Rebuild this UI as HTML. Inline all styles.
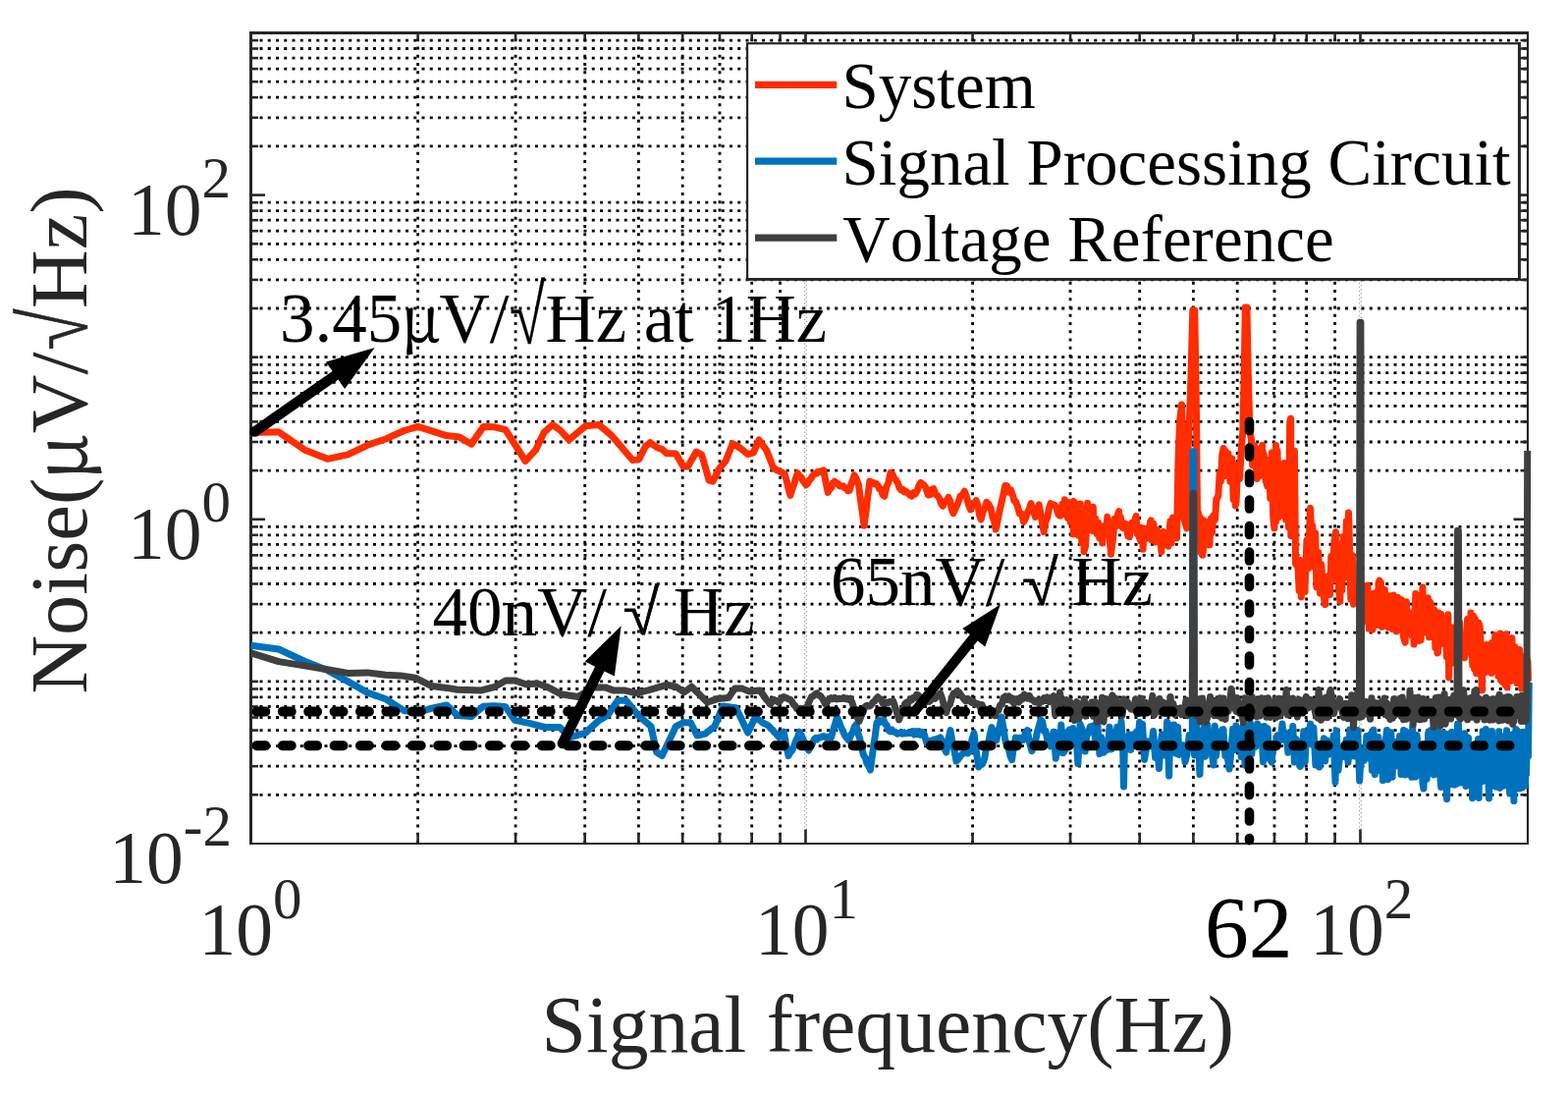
<!DOCTYPE html>
<html lang="en"><head><meta charset="utf-8"><title>Noise spectrum</title>
<style>html,body{margin:0;padding:0;background:#fff}body{width:1597px;height:1117px;overflow:hidden}svg{display:block}</style>
</head><body>
<svg width="1597" height="1117" viewBox="0 0 1597 1117" font-family="'Liberation Serif', serif" style="font-kerning:none">
<rect width="1597" height="1117" fill="#fff"/>
<g stroke="#000" stroke-width="2.8" stroke-dasharray="3 5.25" fill="none">
<path d="M425.6,859.0 V33.5"/>
<path d="M525.1,859.0 V33.5"/>
<path d="M595.7,859.0 V33.5"/>
<path d="M650.4,859.0 V33.5"/>
<path d="M695.2,859.0 V33.5"/>
<path d="M733.0,859.0 V33.5"/>
<path d="M765.7,859.0 V33.5"/>
<path d="M794.6,859.0 V33.5"/>
<path d="M990.6,859.0 V33.5"/>
<path d="M1090.1,859.0 V33.5"/>
<path d="M1160.7,859.0 V33.5"/>
<path d="M1215.4,859.0 V33.5"/>
<path d="M1260.2,859.0 V33.5"/>
<path d="M1298.0,859.0 V33.5"/>
<path d="M1330.7,859.0 V33.5"/>
<path d="M1359.6,859.0 V33.5"/>
<path d="M264.5,809.3 H1556.0"/>
<path d="M264.5,780.2 H1556.0"/>
<path d="M264.5,759.6 H1556.0"/>
<path d="M264.5,743.6 H1556.0"/>
<path d="M264.5,730.5 H1556.0"/>
<path d="M264.5,719.5 H1556.0"/>
<path d="M264.5,709.9 H1556.0"/>
<path d="M264.5,701.5 H1556.0"/>
<path d="M264.5,644.2 H1556.0"/>
<path d="M264.5,615.1 H1556.0"/>
<path d="M264.5,594.5 H1556.0"/>
<path d="M264.5,578.5 H1556.0"/>
<path d="M264.5,565.4 H1556.0"/>
<path d="M264.5,554.4 H1556.0"/>
<path d="M264.5,544.8 H1556.0"/>
<path d="M264.5,536.4 H1556.0"/>
<path d="M264.5,479.1 H1556.0"/>
<path d="M264.5,450.0 H1556.0"/>
<path d="M264.5,429.4 H1556.0"/>
<path d="M264.5,413.4 H1556.0"/>
<path d="M264.5,400.3 H1556.0"/>
<path d="M264.5,389.3 H1556.0"/>
<path d="M264.5,379.7 H1556.0"/>
<path d="M264.5,371.3 H1556.0"/>
<path d="M264.5,314.0 H1556.0"/>
<path d="M264.5,284.9 H1556.0"/>
<path d="M264.5,264.3 H1556.0"/>
<path d="M264.5,248.3 H1556.0"/>
<path d="M264.5,235.2 H1556.0"/>
<path d="M264.5,224.2 H1556.0"/>
<path d="M264.5,214.6 H1556.0"/>
<path d="M264.5,206.2 H1556.0"/>
<path d="M264.5,148.9 H1556.0"/>
<path d="M264.5,119.8 H1556.0"/>
<path d="M264.5,99.2 H1556.0"/>
<path d="M264.5,83.2 H1556.0"/>
<path d="M264.5,70.1 H1556.0"/>
<path d="M264.5,59.1 H1556.0"/>
<path d="M264.5,49.5 H1556.0"/>
<path d="M264.5,41.1 H1556.0"/>
<path d="M264.5,693.9 H1556.0"/>
<path d="M264.5,363.7 H1556.0"/>
</g>
<g stroke="#000" stroke-opacity="0.45" stroke-width="1" stroke-dasharray="1.3 2.8" fill="none">
<path d="M819.7,859.0 V33.5"/><path d="M821.3,857.0 V33.5"/>
<path d="M1384.7,859.0 V33.5"/><path d="M1386.3,857.0 V33.5"/>
</g>
<g stroke="#262626" fill="none" stroke-width="2.6">
<path d="M255.5,860.0 V32.0" stroke-width="3"/>
<path d="M254.0,33.5 H1557.0" stroke-width="3"/>
<path d="M1556.0,32.0 V860.0" stroke-width="2.2"/>
<path d="M254.0,859.0 H1557.0" stroke-width="2.2"/>
<path d="M425.6,859.0 v-10.5"/><path d="M425.6,33.5 v6.8"/>
<path d="M525.1,859.0 v-10.5"/><path d="M525.1,33.5 v6.8"/>
<path d="M595.7,859.0 v-10.5"/><path d="M595.7,33.5 v6.8"/>
<path d="M650.4,859.0 v-10.5"/><path d="M650.4,33.5 v6.8"/>
<path d="M695.2,859.0 v-10.5"/><path d="M695.2,33.5 v6.8"/>
<path d="M733.0,859.0 v-10.5"/><path d="M733.0,33.5 v6.8"/>
<path d="M765.7,859.0 v-10.5"/><path d="M765.7,33.5 v6.8"/>
<path d="M794.6,859.0 v-10.5"/><path d="M794.6,33.5 v6.8"/>
<path d="M820.5,859.0 v-14.5"/><path d="M820.5,33.5 v13.5"/>
<path d="M990.6,859.0 v-10.5"/><path d="M990.6,33.5 v6.8"/>
<path d="M1090.1,859.0 v-10.5"/><path d="M1090.1,33.5 v6.8"/>
<path d="M1160.7,859.0 v-10.5"/><path d="M1160.7,33.5 v6.8"/>
<path d="M1215.4,859.0 v-10.5"/><path d="M1215.4,33.5 v6.8"/>
<path d="M1260.2,859.0 v-10.5"/><path d="M1260.2,33.5 v6.8"/>
<path d="M1298.0,859.0 v-10.5"/><path d="M1298.0,33.5 v6.8"/>
<path d="M1330.7,859.0 v-10.5"/><path d="M1330.7,33.5 v6.8"/>
<path d="M1359.6,859.0 v-10.5"/><path d="M1359.6,33.5 v6.8"/>
<path d="M1385.5,859.0 v-14.5"/><path d="M1385.5,33.5 v13.5"/>
<path d="M255.5,809.3 h7.5"/><path d="M1556.0,809.3 h-7.5"/>
<path d="M255.5,780.2 h7.5"/><path d="M1556.0,780.2 h-7.5"/>
<path d="M255.5,759.6 h7.5"/><path d="M1556.0,759.6 h-7.5"/>
<path d="M255.5,743.6 h7.5"/><path d="M1556.0,743.6 h-7.5"/>
<path d="M255.5,730.5 h7.5"/><path d="M1556.0,730.5 h-7.5"/>
<path d="M255.5,719.5 h7.5"/><path d="M1556.0,719.5 h-7.5"/>
<path d="M255.5,709.9 h7.5"/><path d="M1556.0,709.9 h-7.5"/>
<path d="M255.5,701.5 h7.5"/><path d="M1556.0,701.5 h-7.5"/>
<path d="M255.5,693.9 h7.5"/><path d="M1556.0,693.9 h-7.5"/>
<path d="M255.5,644.2 h7.5"/><path d="M1556.0,644.2 h-7.5"/>
<path d="M255.5,615.1 h7.5"/><path d="M1556.0,615.1 h-7.5"/>
<path d="M255.5,594.5 h7.5"/><path d="M1556.0,594.5 h-7.5"/>
<path d="M255.5,578.5 h7.5"/><path d="M1556.0,578.5 h-7.5"/>
<path d="M255.5,565.4 h7.5"/><path d="M1556.0,565.4 h-7.5"/>
<path d="M255.5,554.4 h7.5"/><path d="M1556.0,554.4 h-7.5"/>
<path d="M255.5,544.8 h7.5"/><path d="M1556.0,544.8 h-7.5"/>
<path d="M255.5,536.4 h7.5"/><path d="M1556.0,536.4 h-7.5"/>
<path d="M255.5,528.8 h14.5"/><path d="M1556.0,528.8 h-14.5"/>
<path d="M255.5,479.1 h7.5"/><path d="M1556.0,479.1 h-7.5"/>
<path d="M255.5,450.0 h7.5"/><path d="M1556.0,450.0 h-7.5"/>
<path d="M255.5,429.4 h7.5"/><path d="M1556.0,429.4 h-7.5"/>
<path d="M255.5,413.4 h7.5"/><path d="M1556.0,413.4 h-7.5"/>
<path d="M255.5,400.3 h7.5"/><path d="M1556.0,400.3 h-7.5"/>
<path d="M255.5,389.3 h7.5"/><path d="M1556.0,389.3 h-7.5"/>
<path d="M255.5,379.7 h7.5"/><path d="M1556.0,379.7 h-7.5"/>
<path d="M255.5,371.3 h7.5"/><path d="M1556.0,371.3 h-7.5"/>
<path d="M255.5,363.7 h7.5"/><path d="M1556.0,363.7 h-7.5"/>
<path d="M255.5,314.0 h7.5"/><path d="M1556.0,314.0 h-7.5"/>
<path d="M255.5,284.9 h7.5"/><path d="M1556.0,284.9 h-7.5"/>
<path d="M255.5,264.3 h7.5"/><path d="M1556.0,264.3 h-7.5"/>
<path d="M255.5,248.3 h7.5"/><path d="M1556.0,248.3 h-7.5"/>
<path d="M255.5,235.2 h7.5"/><path d="M1556.0,235.2 h-7.5"/>
<path d="M255.5,224.2 h7.5"/><path d="M1556.0,224.2 h-7.5"/>
<path d="M255.5,214.6 h7.5"/><path d="M1556.0,214.6 h-7.5"/>
<path d="M255.5,206.2 h7.5"/><path d="M1556.0,206.2 h-7.5"/>
<path d="M255.5,198.6 h14.5"/><path d="M1556.0,198.6 h-14.5"/>
<path d="M255.5,148.9 h7.5"/><path d="M1556.0,148.9 h-7.5"/>
<path d="M255.5,119.8 h7.5"/><path d="M1556.0,119.8 h-7.5"/>
<path d="M255.5,99.2 h7.5"/><path d="M1556.0,99.2 h-7.5"/>
<path d="M255.5,83.2 h7.5"/><path d="M1556.0,83.2 h-7.5"/>
<path d="M255.5,70.1 h7.5"/><path d="M1556.0,70.1 h-7.5"/>
<path d="M255.5,59.1 h7.5"/><path d="M1556.0,59.1 h-7.5"/>
<path d="M255.5,49.5 h7.5"/><path d="M1556.0,49.5 h-7.5"/>
<path d="M255.5,41.1 h7.5"/><path d="M1556.0,41.1 h-7.5"/>
</g>
<g fill="none" stroke-width="7.0" stroke-linejoin="round" stroke-linecap="butt">
<path d="M255.6,440.4 L283.8,439.8 L310.1,457.9 L333.6,467.3 L354.3,462.9 L375.9,452.6 L392.8,447.0 L411.6,438.5 L425.7,434.4 L454.8,443.6 L467.9,445.1 L480.1,452.2 L492.3,434.4 L503.6,434.8 L514.9,437.6 L535.2,469.5 L545.6,458.2 L554.0,440.4 L562.9,432.5 L571.0,438.5 L579.5,447.9 L596.4,433.8 L609.9,432.5 L622.7,443.2 L644.3,468.6 L650.8,467.6 L657.4,454.5 L662.1,450.7 L669.6,456.0 L674.3,457.3 L679.0,461.6 L688.4,462.0 L695.9,475.1 L700.6,475.1 L709.1,460.1 L714.7,462.9 L722.2,489.2 L726.0,490.2 L732.6,477.0 L739.1,469.5 L746.1,451.7 L754.2,456.4 L761.7,462.6 L767.3,461.0 L773.0,447.9 L780.5,458.2 L782.4,462.9 L784.2,467.5 L786.1,472.5 L788.0,477.0 L789.6,477.4 L791.2,478.7 L792.8,479.4 L794.4,480.4 L796.0,480.6 L797.6,482.0 L799.2,482.7 L801.1,489.4 L803.0,497.6 L804.9,504.3 L806.8,498.5 L808.6,493.4 L810.5,487.0 L812.4,481.7 L814.1,484.5 L815.8,485.7 L817.5,489.1 L819.2,491.4 L820.9,493.9 L822.6,492.5 L824.3,489.0 L825.9,487.4 L827.6,484.6 L829.3,482.7 L831.2,482.3 L833.1,480.2 L835.0,480.6 L836.9,479.3 L838.8,478.8 L841.0,490.7 L843.2,501.4 L844.9,497.9 L846.6,496.9 L848.3,491.9 L850.0,490.1 L851.7,491.8 L853.5,492.3 L855.2,494.9 L856.9,495.1 L858.5,494.7 L860.2,496.9 L861.8,496.8 L863.5,499.8 L865.1,499.5 L866.8,493.4 L868.4,489.4 L870.1,483.9 L872.3,487.8 L874.5,493.9 L876.4,508.7 L878.2,521.1 L880.1,535.2 L882.0,521.1 L883.9,504.8 L885.8,490.1 L887.4,490.9 L889.0,491.1 L890.7,492.9 L892.3,492.5 L893.9,493.9 L895.6,497.8 L897.3,498.2 L899.1,504.0 L900.8,505.2 L902.9,495.6 L904.9,491.1 L907.0,481.4 L908.9,482.5 L910.8,487.0 L912.7,488.9 L914.4,491.9 L916.0,496.7 L917.7,498.9 L919.4,498.3 L921.0,501.0 L922.7,500.2 L924.6,501.7 L926.5,503.9 L928.4,505.2 L930.3,501.7 L932.1,503.1 L934.0,500.2 L935.9,494.4 L937.8,491.4 L939.5,493.3 L941.1,493.9 L942.8,496.4 L945.3,503.9 L947.2,503.8 L949.0,498.3 L950.9,497.6 L953.1,503.6 L955.3,505.2 L957.0,508.1 L958.6,512.9 L960.3,515.2 L962.2,510.4 L964.1,510.4 L966.0,506.4 L967.7,510.0 L969.3,518.6 L971.0,522.7 L972.7,518.6 L974.3,515.4 L976.0,511.4 L978.1,505.2 L980.2,504.2 L982.3,500.2 L984.4,506.0 L986.4,513.6 L988.5,519.0 L990.4,514.0 L992.3,514.9 L994.2,509.5 L995.9,514.7 L997.5,523.8 L999.2,529.0 L1001.1,521.0 L1002.9,518.0 L1004.8,511.4 L1007.0,513.5 L1009.2,517.7 L1010.9,526.5 L1012.5,530.1 L1014.2,539.0 L1015.9,531.2 L1017.5,522.8 L1019.2,515.2 L1021.5,505.2 L1023.8,494.5 L1025.7,494.7 L1027.5,501.3 L1029.4,498.7 L1031.3,503.9 L1033.0,510.0 L1034.6,510.7 L1036.3,515.2 L1038.4,523.0 L1040.5,523.0 L1042.6,531.5 L1044.4,527.9 L1046.3,522.1 L1048.2,518.6 L1050.0,512.7 L1052.2,518.7 L1054.5,526.5 L1056.3,520.8 L1058.2,513.9 L1059.9,523.0 L1061.5,532.7 L1063.2,541.5 L1064.9,531.4 L1066.7,527.3 L1068.4,517.8 L1070.1,512.7 L1072.0,514.0 L1073.9,513.9 L1076.0,517.0 L1078.1,524.3 L1080.2,525.2 L1082.0,513.3 L1084.1,523.5 L1084.5,508.7 L1086.2,516.0 L1087.4,527.4 L1088.7,511.6 L1090.3,531.8 L1091.5,513.4 L1093.3,510.5 L1093.3,543.9 L1094.5,511.8 L1095.9,535.2 L1097.1,517.9 L1098.4,545.2 L1099.7,523.3 L1100.2,513.0 L1101.9,552.9 L1103.7,518.5 L1104.0,561.8 L1105.7,555.9 L1107.5,513.7 L1107.7,512.4 L1109.2,535.4 L1110.8,535.9 L1112.2,540.3 L1113.3,516.2 L1114.4,540.9 L1115.7,528.0 L1117.0,543.3 L1118.7,532.3 L1119.8,547.7 L1121.9,537.2 L1122.8,553.0 L1123.3,538.1 L1124.8,535.5 L1126.4,543.9 L1127.8,526.2 L1128.5,529.3 L1130.2,548.0 L1131.5,564.3 L1131.6,563.0 L1133.6,548.8 L1135.3,528.2 L1137.1,535.5 L1138.7,522.7 L1139.7,520.6 L1139.9,532.5 L1141.3,526.4 L1142.4,536.3 L1143.7,537.6 L1145.5,533.0 L1146.9,533.3 L1148.8,545.7 L1150.2,540.7 L1150.3,546.8 L1151.4,542.5 L1152.9,532.4 L1154.6,534.9 L1156.3,528.0 L1157.2,525.6 L1158.0,541.6 L1159.5,544.8 L1161.5,550.3 L1162.8,537.2 L1164.0,547.2 L1164.1,559.3 L1165.1,541.5 L1166.8,549.1 L1168.7,537.7 L1170.3,543.5 L1171.5,531.6 L1172.3,530.0 L1173.1,549.9 L1174.9,533.1 L1177.0,551.9 L1178.4,539.5 L1179.7,550.9 L1181.0,544.2 L1182.9,561.8 L1183.1,544.5 L1184.8,541.3 L1186.5,555.1 L1188.1,550.6 L1190.1,556.2 L1191.9,530.8 L1193.1,552.8 L1194.6,527.0 L1196.5,528.0 L1198.5,548.0 L1200.0,470.0 L1201.5,430.0 L1203.5,412.0 L1204.3,440.0 L1203.2,520.0 L1208.8,538.0 L1209.5,470.0 L1212.5,400.0 L1214.8,316.0 L1216.8,316.0 L1218.5,420.0 L1219.5,520.0 L1221.5,525.4 L1223.0,562.4 L1224.5,529.0 L1224.8,565.2 L1225.9,556.6 L1227.1,530.6 L1229.0,542.4 L1230.1,542.0 L1231.9,554.9 L1233.5,527.9 L1234.5,542.4 L1235.7,525.3 L1237.5,529.5 L1238.9,508.3 L1240.8,505.0 L1242.2,481.7 L1243.3,490.2 L1244.8,462.7 L1246.1,456.5 L1246.4,485.1 L1247.6,458.7 L1249.2,461.0 L1251.0,461.6 L1252.9,490.2 L1254.8,466.9 L1256.2,508.7 L1257.3,473.0 L1258.3,514.9 L1259.1,511.1 L1260.5,476.1 L1262.5,487.8 L1264.5,454.3 L1265.8,440.0 L1267.2,380.0 L1268.3,313.0 L1270.0,313.0 L1271.3,380.0 L1273.0,440.0 L1274.5,447.1 L1275.7,473.7 L1277.6,453.8 L1279.2,477.1 L1280.3,487.5 L1280.9,457.1 L1282.2,485.1 L1284.1,459.8 L1285.7,453.4 L1285.8,478.5 L1287.1,461.9 L1288.3,482.9 L1289.3,489.9 L1290.9,495.2 L1292.2,468.0 L1293.8,507.4 L1295.3,461.1 L1296.7,526.7 L1297.9,537.8 L1298.2,528.6 L1299.5,453.4 L1299.8,530.8 L1301.0,459.0 L1302.6,526.5 L1304.0,481.3 L1305.9,522.0 L1307.9,471.4 L1309.5,529.0 L1311.1,487.8 L1312.5,537.0 L1313.7,429.4 L1314.7,426.0 L1314.8,545.5 L1316.0,488.0 L1317.4,538.9 L1318.4,459.0 L1319.6,574.1 L1322.0,577.4 L1323.1,601.4 L1324.2,570.5 L1325.3,607.9 L1325.7,597.2 L1327.2,578.3 L1329.0,602.6 L1330.9,550.3 L1332.5,578.8 L1334.0,529.6 L1334.5,517.4 L1335.6,541.3 L1336.8,535.3 L1338.4,577.0 L1339.7,542.8 L1340.9,597.8 L1342.8,562.6 L1344.4,603.9 L1345.8,574.8 L1347.8,605.7 L1349.7,615.5 L1349.7,587.5 L1351.1,595.7 L1353.0,586.6 L1354.6,605.4 L1355.8,566.5 L1357.2,589.6 L1358.9,551.7 L1360.4,541.7 L1360.5,590.8 L1362.3,553.5 L1363.4,598.9 L1364.9,612.4 L1365.2,558.2 L1366.8,601.1 L1368.2,546.6 L1369.6,588.2 L1371.3,530.8 L1372.4,586.2 L1373.5,521.9 L1373.9,532.9 L1375.8,610.1 L1377.3,565.6 L1378.6,615.2 L1382.0,612.0 L1384.5,598.0 L1387.0,616.0 L1389.5,600.0 L1391.0,600.8 L1392.1,632.8 L1393.0,596.0 L1393.2,604.8 L1394.2,640.1 L1395.0,618.0 L1396.2,620.4 L1397.1,618.0 L1398.0,641.0 L1398.4,635.3 L1399.6,604.0 L1401.0,625.4 L1401.9,629.9 L1403.2,636.3 L1404.0,593.8 L1405.0,591.0 L1405.4,621.5 L1406.4,593.3 L1407.6,638.3 L1408.5,619.9 L1409.4,623.8 L1410.4,600.4 L1411.7,636.9 L1412.7,615.7 L1414.1,638.7 L1415.1,606.7 L1416.1,633.6 L1417.5,608.7 L1418.4,640.6 L1419.3,605.9 L1420.2,625.4 L1421.3,641.0 L1422.5,642.8 L1423.5,608.2 L1424.4,640.6 L1425.4,625.3 L1426.4,616.5 L1427.5,610.7 L1428.9,643.6 L1429.8,649.9 L1431.2,654.2 L1432.4,612.8 L1433.5,642.5 L1434.7,623.6 L1436.0,636.2 L1437.2,625.5 L1438.3,647.4 L1439.4,630.8 L1440.0,656.0 L1440.5,642.3 L1441.8,604.6 L1442.9,649.4 L1444.0,612.4 L1444.8,652.6 L1445.7,623.0 L1447.1,651.7 L1448.1,616.8 L1449.0,598.0 L1449.2,644.7 L1450.3,619.3 L1451.6,626.4 L1452.6,609.4 L1453.6,638.4 L1454.4,608.8 L1455.6,648.8 L1456.4,612.8 L1457.7,615.5 L1458.8,623.1 L1460.2,636.6 L1461.0,621.3 L1461.9,659.6 L1463.1,631.1 L1464.0,665.0 L1464.5,664.6 L1465.3,623.9 L1466.4,656.7 L1467.7,625.2 L1469.0,648.7 L1469.9,638.1 L1471.0,653.0 L1472.3,645.3 L1473.6,669.0 L1474.9,625.7 L1475.7,690.0 L1475.7,689.1 L1477.0,639.6 L1478.4,675.5 L1479.3,639.0 L1480.6,661.1 L1481.9,644.3 L1483.2,662.6 L1484.3,633.8 L1485.6,663.4 L1486.7,634.1 L1487.7,665.9 L1488.6,647.0 L1489.8,665.4 L1490.9,661.4 L1491.8,669.8 L1492.7,659.7 L1493.7,650.9 L1494.6,630.4 L1495.5,663.4 L1496.6,634.1 L1497.7,657.6 L1498.0,624.0 L1498.6,646.2 L1499.8,677.3 L1500.6,627.2 L1501.7,681.5 L1502.4,630.0 L1503.6,685.7 L1504.6,635.3 L1505.3,681.0 L1506.0,633.9 L1507.2,638.1 L1508.1,653.9 L1509.0,695.5 L1509.5,703.0 L1510.0,666.5 L1510.9,668.9 L1512.0,657.3 L1512.9,684.7 L1514.1,656.6 L1515.1,672.5 L1516.1,661.1 L1517.1,682.3 L1517.9,660.1 L1518.9,685.3 L1519.6,654.6 L1520.5,666.5 L1521.4,671.6 L1522.2,653.9 L1522.8,646.8 L1523.7,668.7 L1524.6,671.9 L1525.2,666.5 L1526.0,688.3 L1526.8,683.0 L1527.7,652.4 L1528.0,645.0 L1528.4,692.5 L1529.1,658.8 L1530.0,694.2 L1530.6,665.7 L1531.6,694.7 L1532.5,651.2 L1533.4,697.8 L1534.0,645.7 L1534.8,687.7 L1535.0,700.0 L1535.6,650.5 L1536.6,674.1 L1537.2,666.3 L1537.9,693.6 L1538.7,657.4 L1539.3,671.9 L1539.9,649.8 L1540.7,692.5 L1541.3,661.1 L1541.9,689.4 L1542.8,658.4 L1543.6,683.7 L1544.2,668.9 L1545.1,695.6 L1546.0,661.3 L1546.9,681.8 L1547.6,661.5 L1548.2,672.8 L1549.0,675.7 L1549.7,701.1 L1550.5,680.3 L1551.3,700.1 L1552.2,679.8 L1552.8,699.8 L1553.4,671.7 L1554.2,693.9 L1554.8,667.0 L1555.5,686.4 L1556.0,673.2 L1556.5,693.5" stroke="#ff2d00"/>
<path d="M255.6,657.2 L283.8,661.0 L310.1,673.2 L333.6,682.6 L354.3,693.9 L374.0,705.1 L392.8,711.7 L411.6,723.6 L425.7,725.8 L439.7,721.1 L454.8,717.9 L466.0,728.6 L480.1,729.6 L492.3,719.2 L503.6,718.7 L514.9,719.8 L524.3,733.3 L540.0,736.7 L555.0,740.5 L570.0,740.5 L580.4,750.8 L596.4,746.1 L609.5,733.9 L618.9,728.3 L629.2,713.3 L637.7,713.3 L650.8,729.2 L663.0,739.6 L668.7,765.9 L674.3,769.6 L688.4,739.6 L695.9,735.8 L703.4,735.8 L710.0,749.0 L718.5,747.1 L727.9,739.6 L736.3,718.9 L749.5,720.8 L756.0,733.9 L761.7,746.1 L769.2,730.2 L776.7,735.8 L780.4,737.7 L782.3,738.6 L783.9,740.2 L785.5,742.3 L787.1,743.3 L788.8,745.9 L790.4,746.9 L792.0,749.1 L793.6,750.8 L796.0,747.7 L798.3,745.2 L800.6,758.0 L803.0,769.6 L804.9,766.1 L806.7,764.1 L808.6,760.2 L810.5,754.5 L812.4,750.5 L814.3,745.2 L816.2,749.0 L818.1,753.4 L819.9,756.4 L821.8,760.2 L823.7,764.0 L825.6,759.5 L827.4,757.3 L829.3,752.7 L830.9,751.3 L832.5,752.7 L834.1,750.9 L835.8,750.7 L837.4,750.0 L839.0,749.6 L840.9,751.0 L842.8,750.2 L844.6,750.8 L846.5,751.0 L848.5,744.0 L850.5,737.1 L852.5,730.0 L854.4,734.5 L856.2,739.5 L858.1,743.3 L860.0,748.0 L862.3,751.4 L864.6,754.0 L866.5,748.6 L868.3,746.0 L870.1,740.5 L872.0,737.6 L873.9,746.5 L875.8,752.5 L877.7,762.0 L879.6,769.0 L881.3,771.6 L883.0,777.4 L884.7,779.9 L886.4,784.0 L888.0,772.5 L889.7,759.6 L891.4,748.7 L893.0,736.0 L894.8,733.6 L896.5,735.2 L898.2,733.6 L900.0,733.0 L901.7,737.4 L903.3,738.6 L905.0,743.6 L906.8,744.9 L908.6,743.3 L910.4,745.3 L912.1,745.5 L913.9,747.3 L915.7,746.6 L917.4,746.5 L919.1,747.2 L920.9,745.9 L922.6,747.0 L924.3,746.5 L926.0,746.6 L927.7,746.6 L929.3,744.7 L931.0,748.0 L932.7,744.6 L934.3,747.6 L936.0,744.6 L937.7,748.4 L939.3,745.3 L941.0,746.6 L944.0,757.0 L945.7,757.4 L947.4,754.4 L949.1,755.3 L950.9,753.2 L952.6,754.9 L954.3,752.1 L956.0,753.7 L957.7,751.0 L959.7,754.8 L961.8,762.4 L963.8,766.0 L965.9,752.8 L968.0,743.6 L970.0,755.6 L972.0,764.2 L974.0,775.0 L976.0,773.2 L978.0,770.1 L980.0,767.7 L982.0,767.0 L983.9,763.8 L985.8,767.0 L987.8,764.7 L989.9,753.1 L992.0,746.6 L994.4,765.9 L996.8,781.0 L998.8,777.1 L1000.8,777.7 L1002.8,772.0 L1004.6,761.6 L1006.4,757.6 L1008.2,748.2 L1010.0,740.6 L1012.4,748.2 L1014.8,754.0 L1016.5,745.5 L1018.3,739.1 L1020.0,730.0 L1021.8,739.8 L1023.6,752.1 L1025.4,760.0 L1027.1,761.6 L1028.9,769.8 L1030.6,773.7 L1032.5,760.0 L1034.4,751.0 L1036.4,753.8 L1038.4,751.5 L1040.4,754.0 L1042.4,753.4 L1044.4,745.9 L1046.4,743.6 L1048.7,756.8 L1051.0,764.7 L1052.8,758.2 L1054.6,755.2 L1056.4,745.1 L1058.2,739.4 L1060.0,733.0 L1061.7,734.5 L1063.3,744.4 L1065.0,744.2 L1066.7,753.6 L1068.3,754.2 L1070.0,760.0 L1073.0,745.2 L1075.3,772.2 L1077.7,745.9 L1079.5,765.9 L1080.8,738.0 L1082.9,766.7 L1084.9,763.4 L1086.5,746.9 L1088.8,743.3 L1091.2,757.3 L1092.8,741.5 L1094.4,757.7 L1096.1,751.4 L1097.9,777.5 L1100.1,737.1 L1102.1,742.7 L1103.6,749.4 L1105.2,765.1 L1106.7,749.2 L1108.0,747.6 L1110.3,739.7 L1112.0,739.6 L1114.0,738.7 L1115.9,755.5 L1117.7,735.0 L1119.9,767.7 L1121.9,750.7 L1124.2,766.3 L1126.4,757.9 L1128.5,763.3 L1130.0,740.3 L1131.9,762.9 L1133.5,750.6 L1135.7,755.3 L1137.8,740.2 L1139.7,755.6 L1142.0,734.8 L1143.6,758.7 L1144.5,801.0 L1145.6,751.3 L1147.7,753.6 L1150.0,747.8 L1151.8,763.6 L1153.7,747.9 L1155.2,755.4 L1156.9,746.0 L1159.0,751.3 L1160.6,735.3 L1162.1,747.4 L1163.6,737.4 L1165.6,773.4 L1167.2,763.8 L1168.5,754.7 L1170.5,757.8 L1172.7,760.1 L1174.6,744.5 L1176.6,771.5 L1178.5,757.5 L1180.5,782.5 L1181.9,758.1 L1183.5,747.9 L1185.2,759.2 L1187.0,769.2 L1188.6,735.1 L1190.7,790.0 L1191.8,738.1 L1193.8,764.6 L1195.9,737.9 L1197.8,767.2 L1199.6,740.5 L1200.9,768.4 L1203.2,762.7 L1205.2,758.6 L1207.0,776.0 L1209.0,768.0 L1211.2,748.6 L1213.4,753.2 L1214.3,755.0 L1215.0,459.8 L1215.8,459.8 L1216.5,768.4 L1216.6,769.0 L1218.6,737.7 L1221.0,765.1 L1222.0,788.5 L1223.0,758.4 L1224.6,757.6 L1226.1,741.2 L1227.5,770.3 L1229.8,738.1 L1231.7,765.0 L1233.1,758.4 L1236.0,779.0 L1237.3,739.2 L1238.7,769.4 L1240.2,749.5 L1242.3,757.3 L1244.5,743.1 L1245.9,742.7 L1247.9,770.0 L1250.1,770.5 L1252.0,783.0 L1253.4,770.6 L1255.6,742.2 L1257.5,763.4 L1258.9,739.1 L1260.8,753.5 L1262.8,742.1 L1264.2,770.6 L1266.5,738.4 L1268.0,779.0 L1269.7,758.5 L1271.5,760.3 L1273.5,736.6 L1274.9,767.7 L1276.6,743.0 L1278.7,760.5 L1280.7,736.9 L1282.8,756.4 L1284.7,740.3 L1286.5,775.9 L1287.9,739.5 L1289.3,771.7 L1291.1,741.8 L1292.8,771.6 L1295.0,776.0 L1296.6,764.2 L1298.7,757.8 L1300.9,748.7 L1303.0,754.4 L1304.4,753.1 L1306.0,737.1 L1307.6,753.2 L1309.7,746.2 L1311.9,766.3 L1313.9,761.9 L1315.5,758.5 L1316.8,739.6 L1318.4,776.0 L1319.8,752.3 L1322.1,755.3 L1324.4,780.5 L1325.7,777.4 L1327.8,744.8 L1329.1,775.7 L1330.8,744.9 L1332.6,753.2 L1334.7,737.1 L1336.4,758.1 L1337.9,741.0 L1339.9,779.1 L1342.1,760.4 L1343.7,781.0 L1345.0,770.1 L1346.4,763.6 L1348.4,751.9 L1349.6,775.1 L1351.1,753.8 L1352.8,768.6 L1354.7,766.3 L1356.4,764.6 L1358.2,749.1 L1360.0,796.5 L1361.2,743.9 L1363.0,784.4 L1365.1,765.8 L1366.9,763.9 L1368.2,770.5 L1369.3,770.1 L1371.2,753.2 L1373.0,776.3 L1374.8,743.1 L1376.5,769.9 L1377.8,742.0 L1379.6,770.1 L1381.1,767.7 L1382.7,743.5 L1384.7,795.0 L1385.9,772.3 L1387.3,764.4 L1389.1,774.6 L1390.7,765.0 L1391.9,749.5 L1393.0,761.0 L1394.7,772.2 L1396.2,747.5 L1397.4,784.3 L1399.0,743.2 L1400.3,788.7 L1401.8,751.0 L1402.9,770.7 L1403.9,750.5 L1405.6,785.0 L1407.2,763.5 L1408.4,794.6 L1409.5,755.9 L1410.8,758.3 L1412.5,743.4 L1413.5,793.6 L1414.7,748.1 L1415.8,759.3 L1416.8,745.8 L1418.1,791.2 L1419.4,755.1 L1420.8,780.5 L1422.3,766.5 L1424.0,772.5 L1425.5,749.4 L1427.0,788.5 L1428.5,787.6 L1429.6,743.4 L1430.9,788.9 L1431.7,744.6 L1433.2,788.3 L1434.4,776.6 L1435.3,778.9 L1436.5,755.3 L1437.8,791.3 L1438.7,739.5 L1439.8,785.0 L1440.7,763.0 L1441.5,791.1 L1443.0,748.4 L1444.5,762.4 L1445.4,766.5 L1446.5,789.4 L1447.7,761.7 L1448.9,797.3 L1450.0,803.0 L1450.9,773.2 L1452.3,757.9 L1453.2,793.2 L1454.6,746.4 L1455.7,786.9 L1457.0,743.8 L1458.3,782.7 L1459.6,779.9 L1460.4,788.9 L1461.7,744.0 L1462.5,775.8 L1463.2,765.3 L1464.3,757.9 L1465.1,744.1 L1466.1,783.0 L1467.7,801.5 L1469.1,774.5 L1470.0,774.7 L1470.8,746.5 L1471.7,783.2 L1472.5,766.5 L1473.6,813.7 L1474.5,759.4 L1475.4,747.5 L1476.4,760.5 L1477.6,774.9 L1478.4,745.5 L1479.2,798.8 L1480.4,786.6 L1481.4,799.2 L1482.3,746.9 L1483.2,798.1 L1483.9,770.1 L1484.6,737.0 L1485.4,737.0 L1486.1,751.4 L1486.2,751.8 L1487.1,797.1 L1488.0,766.8 L1488.8,781.4 L1490.0,749.2 L1490.9,783.7 L1491.9,746.7 L1492.9,800.5 L1493.8,760.5 L1495.0,798.1 L1495.6,751.3 L1496.3,784.3 L1497.0,780.0 L1497.9,794.6 L1498.7,765.8 L1499.6,812.7 L1500.6,775.2 L1501.3,800.4 L1502.0,772.1 L1502.9,810.2 L1503.8,766.7 L1504.5,780.3 L1505.5,752.4 L1506.2,812.5 L1506.8,752.9 L1507.7,790.5 L1508.5,772.7 L1509.5,795.8 L1510.2,744.6 L1510.9,744.6 L1511.6,766.1 L1512.6,770.1 L1513.4,742.4 L1514.3,783.1 L1515.2,775.4 L1516.5,813.0 L1517.6,775.7 L1518.3,744.9 L1518.9,753.2 L1519.5,744.5 L1520.4,798.7 L1521.0,779.8 L1521.8,776.7 L1522.5,769.6 L1523.4,801.1 L1524.0,783.6 L1524.5,781.4 L1525.4,769.5 L1526.0,782.3 L1526.7,744.7 L1527.4,802.5 L1528.0,761.7 L1528.6,767.8 L1529.2,764.8 L1530.0,795.5 L1530.8,753.1 L1531.4,800.3 L1532.0,749.7 L1532.8,795.3 L1533.4,770.7 L1534.0,798.3 L1534.5,743.7 L1535.3,749.6 L1535.9,771.8 L1536.5,784.0 L1537.7,808.0 L1538.8,750.5 L1539.6,797.8 L1540.1,768.0 L1540.6,802.9 L1541.2,747.5 L1541.9,815.6 L1542.6,747.3 L1543.2,770.5 L1543.8,742.6 L1544.3,758.2 L1545.1,743.8 L1545.6,764.0 L1546.0,745.4 L1547.5,803.0 L1548.6,767.1 L1549.2,798.5 L1549.7,747.7 L1550.1,802.1 L1550.7,774.2 L1551.2,798.3 L1551.9,771.1 L1552.3,745.3 L1552.8,746.7 L1553.3,800.1 L1553.9,765.8 L1554.6,788.3 L1555.1,754.1 L1556.5,770.0 L1557.3,695.0" stroke="#0072bd"/>
<path d="M255.6,664.8 L283.8,673.6 L310.1,677.9 L333.6,681.7 L354.3,685.4 L374.0,684.9 L392.8,687.3 L407.8,687.9 L422.8,690.1 L439.7,698.6 L454.8,700.4 L466.0,702.3 L490.5,702.9 L503.6,699.5 L514.9,692.9 L524.3,692.9 L535.6,696.7 L547.5,696.0 L558.8,700.1 L571.0,706.7 L588.8,709.5 L603.9,700.1 L617.0,700.1 L624.5,702.9 L635.8,702.9 L648.0,705.8 L660.2,702.9 L679.0,697.3 L688.4,699.2 L696.9,704.8 L704.4,699.2 L711.0,705.8 L720.3,715.1 L731.6,711.4 L742.0,710.4 L748.5,701.1 L756.0,701.1 L762.6,703.9 L773.9,702.9 L780.8,712.6 L782.5,714.3 L784.2,717.0 L786.1,715.1 L788.0,712.3 L790.4,713.5 L792.7,715.1 L794.6,713.6 L796.4,710.8 L798.3,709.5 L799.9,710.8 L801.6,710.8 L803.2,712.1 L804.9,712.3 L806.5,714.2 L808.2,717.4 L809.9,718.6 L811.5,721.7 L813.4,722.1 L815.3,721.3 L817.1,722.5 L819.0,721.2 L820.9,721.7 L822.8,717.9 L824.6,713.3 L826.5,709.5 L828.4,708.7 L830.2,707.0 L832.1,705.8 L834.0,708.0 L836.0,709.0 L838.2,712.1 L840.5,716.6 L842.5,715.0 L844.5,711.7 L846.5,710.6 L848.4,711.8 L850.3,710.4 L852.2,711.9 L854.1,711.2 L856.0,711.5 L857.7,711.5 L859.3,710.3 L861.0,711.7 L862.7,711.1 L864.3,712.4 L866.0,711.3 L867.8,715.0 L869.6,720.8 L871.4,724.9 L873.2,730.3 L875.0,734.6 L877.0,729.2 L879.0,724.6 L881.0,719.6 L883.0,718.3 L885.0,719.0 L887.0,718.0 L888.8,715.4 L890.5,714.2 L892.2,711.7 L894.0,709.8 L895.6,711.5 L897.3,711.9 L899.0,716.0 L900.6,716.6 L902.4,715.1 L904.2,715.6 L906.0,714.6 L907.8,714.4 L909.6,713.6 L911.6,719.6 L913.7,726.6 L915.7,733.0 L917.7,727.1 L919.7,722.4 L921.7,716.6 L923.4,715.1 L925.1,715.5 L926.8,712.4 L928.5,712.9 L930.1,710.3 L931.8,710.8 L933.5,707.3 L935.2,707.6 L937.2,710.6 L939.2,712.4 L941.2,715.0 L943.1,715.2 L945.0,712.8 L946.8,714.2 L948.7,712.0 L950.5,710.6 L952.3,711.3 L954.1,708.4 L955.9,708.3 L957.7,706.0 L959.7,711.6 L961.8,719.7 L963.8,725.6 L965.7,718.9 L967.5,717.3 L969.4,710.6 L971.3,706.0 L973.0,706.6 L974.8,703.7 L976.5,704.6 L978.3,707.1 L980.0,709.3 L981.8,712.0 L983.8,713.9 L985.8,711.4 L987.8,713.6 L989.7,715.4 L991.5,714.1 L993.4,717.0 L995.3,716.6 L996.9,717.1 L998.6,720.8 L1000.2,717.6 L1001.8,722.1 L1003.5,722.0 L1005.1,724.1 L1006.8,722.3 L1008.4,726.1 L1010.0,726.2 L1011.7,728.0 L1013.3,728.6 L1015.1,723.6 L1016.8,723.6 L1018.6,718.1 L1020.4,717.1 L1022.1,710.3 L1023.9,709.0 L1025.7,712.5 L1027.4,708.8 L1029.2,713.1 L1030.9,710.9 L1032.7,716.4 L1034.4,715.0 L1036.2,711.6 L1037.9,714.8 L1039.7,710.1 L1041.5,711.9 L1043.2,707.1 L1045.0,708.3 L1046.7,711.1 L1048.5,708.5 L1050.2,712.3 L1051.9,712.5 L1053.7,714.6 L1055.4,715.0 L1057.0,713.0 L1058.6,716.0 L1060.3,713.4 L1061.9,714.2 L1063.5,710.6 L1065.1,713.2 L1066.8,710.0 L1068.4,714.6 L1070.0,712.0 L1073.0,708.7 L1074.7,727.9 L1076.1,712.0 L1077.5,724.9 L1079.5,705.0 L1081.1,716.0 L1082.6,714.6 L1084.5,714.6 L1086.2,712.6 L1087.9,720.4 L1089.8,714.1 L1091.4,717.6 L1092.9,721.2 L1094.4,733.5 L1096.8,714.6 L1099.1,731.5 L1101.1,720.2 L1102.8,718.3 L1104.3,711.6 L1105.8,729.2 L1107.8,718.5 L1109.4,724.9 L1111.7,715.0 L1113.5,729.2 L1115.3,714.4 L1117.1,735.0 L1119.3,718.5 L1121.0,728.0 L1122.5,710.3 L1124.0,734.9 L1126.0,711.5 L1127.7,727.0 L1129.5,712.9 L1131.1,711.6 L1133.0,708.0 L1135.3,720.2 L1137.1,711.4 L1139.2,724.5 L1141.4,717.6 L1143.0,728.7 L1144.6,711.7 L1146.4,719.0 L1148.1,714.3 L1150.1,719.7 L1152.1,722.3 L1154.3,722.3 L1156.4,712.1 L1158.2,726.5 L1159.7,726.5 L1161.1,721.1 L1162.8,711.2 L1164.8,725.4 L1167.1,715.3 L1168.6,724.7 L1170.1,719.6 L1172.0,719.8 L1173.9,708.4 L1175.4,728.4 L1177.2,716.4 L1179.1,725.2 L1181.0,711.5 L1182.8,725.2 L1184.6,714.9 L1186.7,726.4 L1189.0,716.1 L1190.6,725.3 L1192.1,709.4 L1193.4,723.9 L1194.9,716.4 L1197.2,727.9 L1199.0,721.4 L1200.8,726.0 L1202.4,720.8 L1203.8,727.7 L1205.1,721.4 L1206.6,724.9 L1208.0,712.7 L1209.6,728.7 L1211.6,723.3 L1213.0,719.4 L1214.3,726.0 L1215.0,502.5 L1215.8,502.5 L1216.5,721.9 L1217.5,712.8 L1218.9,728.7 L1221.0,711.7 L1222.7,735.0 L1224.6,711.1 L1226.0,721.8 L1228.0,735.5 L1230.6,728.0 L1232.6,709.6 L1234.0,723.2 L1235.4,718.7 L1237.0,728.8 L1238.5,712.9 L1240.9,728.9 L1242.5,710.7 L1244.4,731.2 L1245.8,711.1 L1248.0,732.5 L1249.4,716.5 L1251.0,724.4 L1252.4,718.6 L1254.0,701.5 L1256.7,718.1 L1259.0,724.4 L1260.3,710.8 L1262.5,726.3 L1264.6,726.0 L1266.4,735.8 L1268.0,710.7 L1269.6,723.6 L1271.3,713.3 L1273.2,713.5 L1275.4,709.6 L1277.0,724.8 L1278.6,713.7 L1280.0,729.7 L1281.3,713.0 L1283.1,729.1 L1285.1,710.8 L1286.5,722.3 L1288.6,711.2 L1289.9,730.3 L1291.5,710.8 L1293.8,730.4 L1295.2,720.8 L1296.8,728.8 L1298.8,712.1 L1300.1,730.4 L1302.5,711.2 L1304.0,728.9 L1306.2,715.3 L1308.1,725.3 L1310.2,702.6 L1311.6,728.0 L1313.7,722.1 L1315.4,727.0 L1316.8,710.9 L1318.4,720.8 L1319.8,717.4 L1321.4,730.1 L1323.4,712.5 L1325.1,716.1 L1326.5,713.5 L1328.0,718.6 L1330.3,709.3 L1332.2,721.1 L1333.5,712.2 L1335.6,712.6 L1337.4,716.2 L1339.2,723.9 L1340.5,729.6 L1342.0,731.1 L1343.0,702.5 L1345.5,733.2 L1347.1,721.9 L1348.8,730.6 L1350.3,710.3 L1351.8,730.7 L1353.2,710.2 L1355.0,702.5 L1356.7,710.8 L1358.6,726.5 L1360.7,715.0 L1362.4,718.7 L1364.5,711.5 L1366.4,721.7 L1368.4,730.5 L1369.5,726.1 L1370.9,716.2 L1372.9,731.8 L1374.3,719.0 L1375.4,729.1 L1376.7,707.8 L1378.5,740.7 L1379.8,717.5 L1381.1,720.0 L1382.8,704.5 L1384.4,730.4 L1385.1,328.3 L1385.9,328.3 L1386.6,725.5 L1387.3,729.8 L1388.5,718.6 L1390.2,727.4 L1391.5,714.4 L1392.7,722.4 L1394.6,720.5 L1395.6,732.3 L1397.0,710.8 L1398.6,724.9 L1399.7,719.5 L1401.0,715.6 L1402.1,720.6 L1403.4,719.2 L1405.0,715.8 L1406.3,723.5 L1407.3,714.3 L1408.7,720.9 L1410.0,710.9 L1411.1,727.8 L1412.3,715.7 L1413.7,717.4 L1414.8,728.0 L1415.8,732.6 L1417.2,725.8 L1418.3,731.4 L1419.7,711.7 L1421.4,726.6 L1422.3,721.1 L1423.5,722.1 L1424.4,714.1 L1425.3,727.5 L1426.3,711.0 L1427.3,729.5 L1428.3,710.1 L1429.5,732.8 L1431.1,715.2 L1432.5,732.2 L1433.9,719.1 L1435.1,726.6 L1436.0,703.3 L1436.9,728.0 L1437.9,712.3 L1439.2,737.5 L1440.4,710.6 L1441.6,732.6 L1442.5,720.1 L1443.3,726.9 L1444.5,709.9 L1446.0,732.8 L1447.3,732.7 L1448.7,728.2 L1449.6,711.6 L1450.9,732.1 L1452.1,716.0 L1453.1,713.6 L1454.3,728.2 L1455.4,727.5 L1456.5,714.5 L1458.0,727.7 L1458.9,723.6 L1460.1,740.3 L1461.0,715.6 L1462.2,710.6 L1463.4,712.4 L1464.2,734.3 L1465.1,710.0 L1467.0,739.0 L1468.2,722.6 L1469.0,709.8 L1470.0,727.5 L1471.1,706.5 L1472.1,737.2 L1473.4,724.2 L1474.4,717.1 L1475.2,721.0 L1475.9,723.3 L1477.0,712.3 L1477.7,731.9 L1478.9,717.0 L1479.8,724.7 L1480.9,708.2 L1481.7,725.6 L1482.5,720.8 L1483.7,727.9 L1483.9,725.8 L1484.6,540.3 L1485.4,540.3 L1486.1,730.3 L1486.9,702.1 L1487.6,731.9 L1488.4,726.3 L1489.4,723.8 L1490.5,702.7 L1491.6,714.6 L1492.3,720.0 L1493.3,728.0 L1494.0,717.4 L1494.6,732.8 L1495.5,711.2 L1496.5,719.6 L1497.6,711.4 L1498.3,729.4 L1498.9,710.3 L1499.5,730.3 L1500.2,713.2 L1500.9,720.9 L1501.9,703.7 L1502.8,724.8 L1503.6,702.4 L1504.2,733.2 L1505.1,711.8 L1505.9,729.8 L1506.8,711.4 L1507.8,727.5 L1508.5,718.4 L1509.3,714.3 L1510.2,713.4 L1511.0,717.6 L1512.0,733.0 L1512.7,719.8 L1513.5,710.2 L1514.1,719.3 L1515.0,713.3 L1515.6,728.7 L1516.6,712.3 L1517.3,733.2 L1518.2,716.8 L1519.0,731.0 L1519.6,712.2 L1520.4,733.1 L1521.2,712.1 L1521.8,727.8 L1522.6,722.9 L1523.4,721.1 L1524.2,713.9 L1525.0,724.0 L1525.9,710.2 L1526.7,733.9 L1527.2,707.2 L1527.9,727.0 L1528.5,717.7 L1529.1,724.7 L1529.6,718.5 L1530.3,733.3 L1531.1,719.5 L1531.7,730.1 L1532.5,710.6 L1533.2,727.4 L1533.8,710.9 L1534.5,727.8 L1535.3,709.6 L1536.1,734.0 L1536.6,709.6 L1537.1,715.3 L1537.7,709.9 L1538.2,722.5 L1539.0,721.4 L1539.5,727.2 L1540.1,721.1 L1540.7,737.3 L1541.2,713.1 L1541.9,734.3 L1542.6,716.1 L1543.2,725.3 L1543.6,715.1 L1544.2,720.0 L1545.0,709.6 L1545.5,723.3 L1546.2,720.3 L1546.8,724.2 L1547.4,713.3 L1548.1,728.0 L1548.7,710.9 L1549.4,734.4 L1550.0,708.2 L1550.7,728.9 L1551.4,715.1 L1552.1,729.1 L1552.7,712.6 L1553.2,734.4 L1553.8,711.5 L1554.4,733.5 L1555.0,722.0 L1555.7,459.0" stroke="#404040"/>
</g>
<g stroke="#000" stroke-width="10" stroke-linecap="round" stroke-dasharray="8.9 17.5" fill="none">
<path d="M261.4,724.6 H1546"/>
<path d="M261.4,759.2 H1546"/>
<path d="M1272.5,429.6 V855.6" stroke-width="9.6" stroke-dasharray="8.9 17.6"/>
</g>
<rect x="761.1" y="44.2" width="786.3" height="240.1" fill="#fff" stroke="#262626" stroke-width="2.2"/>
<path d="M1547.4,43.1 V285.6 M760,284.4 H1548.9" fill="none" stroke="#262626" stroke-width="2.9"/>
<path d="M769,86.3 H852.3" stroke="#ff2d00" stroke-width="7.2" fill="none"/>
<text x="857.5" y="110.3" font-size="67" fill="#000">System</text>
<path d="M769,164.2 H852.3" stroke="#0072bd" stroke-width="7.2" fill="none"/>
<text x="857.5" y="188.2" font-size="67" fill="#000">Signal Processing Circuit</text>
<path d="M769,242.1 H852.3" stroke="#404040" stroke-width="7.2" fill="none"/>
<text x="858.3" y="266.1" font-size="67" fill="#000">Voltage Reference</text>
<path fill="#000" d="M262.5,443.8 L344.5,386.5 L351.1,395.9 L381.7,354.1 L331.9,368.4 L338.5,377.9 L256.5,435.2Z"/><circle cx="259.5" cy="439.5" r="5.25" fill="#000"/>
<path fill="#000" d="M577.6,759.3 L615.5,683.4 L625.8,688.5 L632.7,637.2 L595.8,673.6 L606.1,678.7 L568.2,754.7Z"/><circle cx="572.9" cy="757" r="5.25" fill="#000"/>
<path fill="#000" d="M935.4,727.6 L995.7,652.4 L1003.3,658.5 L1019.0,615.3 L980.3,640.0 L987.9,646.1 L927.6,721.4Z"/><circle cx="931.5" cy="724.5" r="5.0" fill="#000"/>
<g fill="#000" font-size="71">
<text x="285" y="348.2">3.45<tspan font-family="'Noto Serif CJK SC', 'Liberation Serif', serif" font-size="64" x="408.3" stroke="#000" stroke-width="0.7">μ</tspan><tspan x="447.5">V/</tspan><tspan font-family="'Noto Serif CJK SC', 'Liberation Serif', serif" font-size="66.6" x="507.7" y="342.3" textLength="60.2" lengthAdjust="spacingAndGlyphs" stroke="#000" stroke-width="0.3">√</tspan><tspan x="555.6" y="348.2" font-size="70.7">Hz at 1Hz</tspan></text>
<text x="440.4" y="646.6">40nV/ <tspan font-family="'Noto Serif CJK SC', 'Liberation Serif', serif" font-size="51" x="623.3" y="640.1" textLength="61.1" lengthAdjust="spacingAndGlyphs" stroke="#000" stroke-width="0.8">√</tspan> <tspan x="685.7" y="646.6">Hz</tspan></text>
<text x="846" y="616.2">65nV/ <tspan font-family="'Noto Serif CJK SC', 'Liberation Serif', serif" font-size="51" x="1029.4" y="609.9" textLength="61.1" lengthAdjust="spacingAndGlyphs" stroke="#000" stroke-width="0.8">√</tspan> <tspan x="1091.3" y="616.2">Hz</tspan></text>
</g>
<text x="1227" y="973.8" font-size="89.5" fill="#000">62</text>
<g fill="#262626" font-size="75.5">
<text x="130.0" y="238.6">10<tspan font-size="59" dy="-37.3">2</tspan></text>
<text x="130.0" y="568.5">10<tspan font-size="59" dy="-37.3">0</tspan></text>
<text x="111.3" y="898.5">10<tspan font-size="59" dy="-37.3">-2</tspan></text>
<text x="202.5" y="972.3">10<tspan font-size="59" dy="-37.3">0</tspan></text>
<text x="769.0" y="972.3">10<tspan font-size="59" dy="-37.3">1</tspan></text>
<text x="1334.3" y="972.3">10<tspan font-size="59" dy="-37.3">2</tspan></text>
</g>
<text x="551.5" y="1070.8" font-size="81.7" fill="#262626">Signal frequency(Hz)</text>
<text transform="translate(87.6,706.5) rotate(-90)" x="0" y="0" font-size="82.5" fill="#262626">Noise(<tspan font-family="'Noto Serif CJK SC', 'Liberation Serif', serif" font-size="74.4" x="217.5" stroke="#262626" stroke-width="0.7">μ</tspan><tspan x="265.3">V/</tspan><tspan font-family="'Noto Serif CJK SC', 'Liberation Serif', serif" font-size="75" x="336.6" y="-7.6" textLength="70.7" lengthAdjust="spacingAndGlyphs" stroke="#262626" stroke-width="0.5">√</tspan><tspan x="392.6" y="0">Hz)</tspan></text>
</svg>
</body></html>
